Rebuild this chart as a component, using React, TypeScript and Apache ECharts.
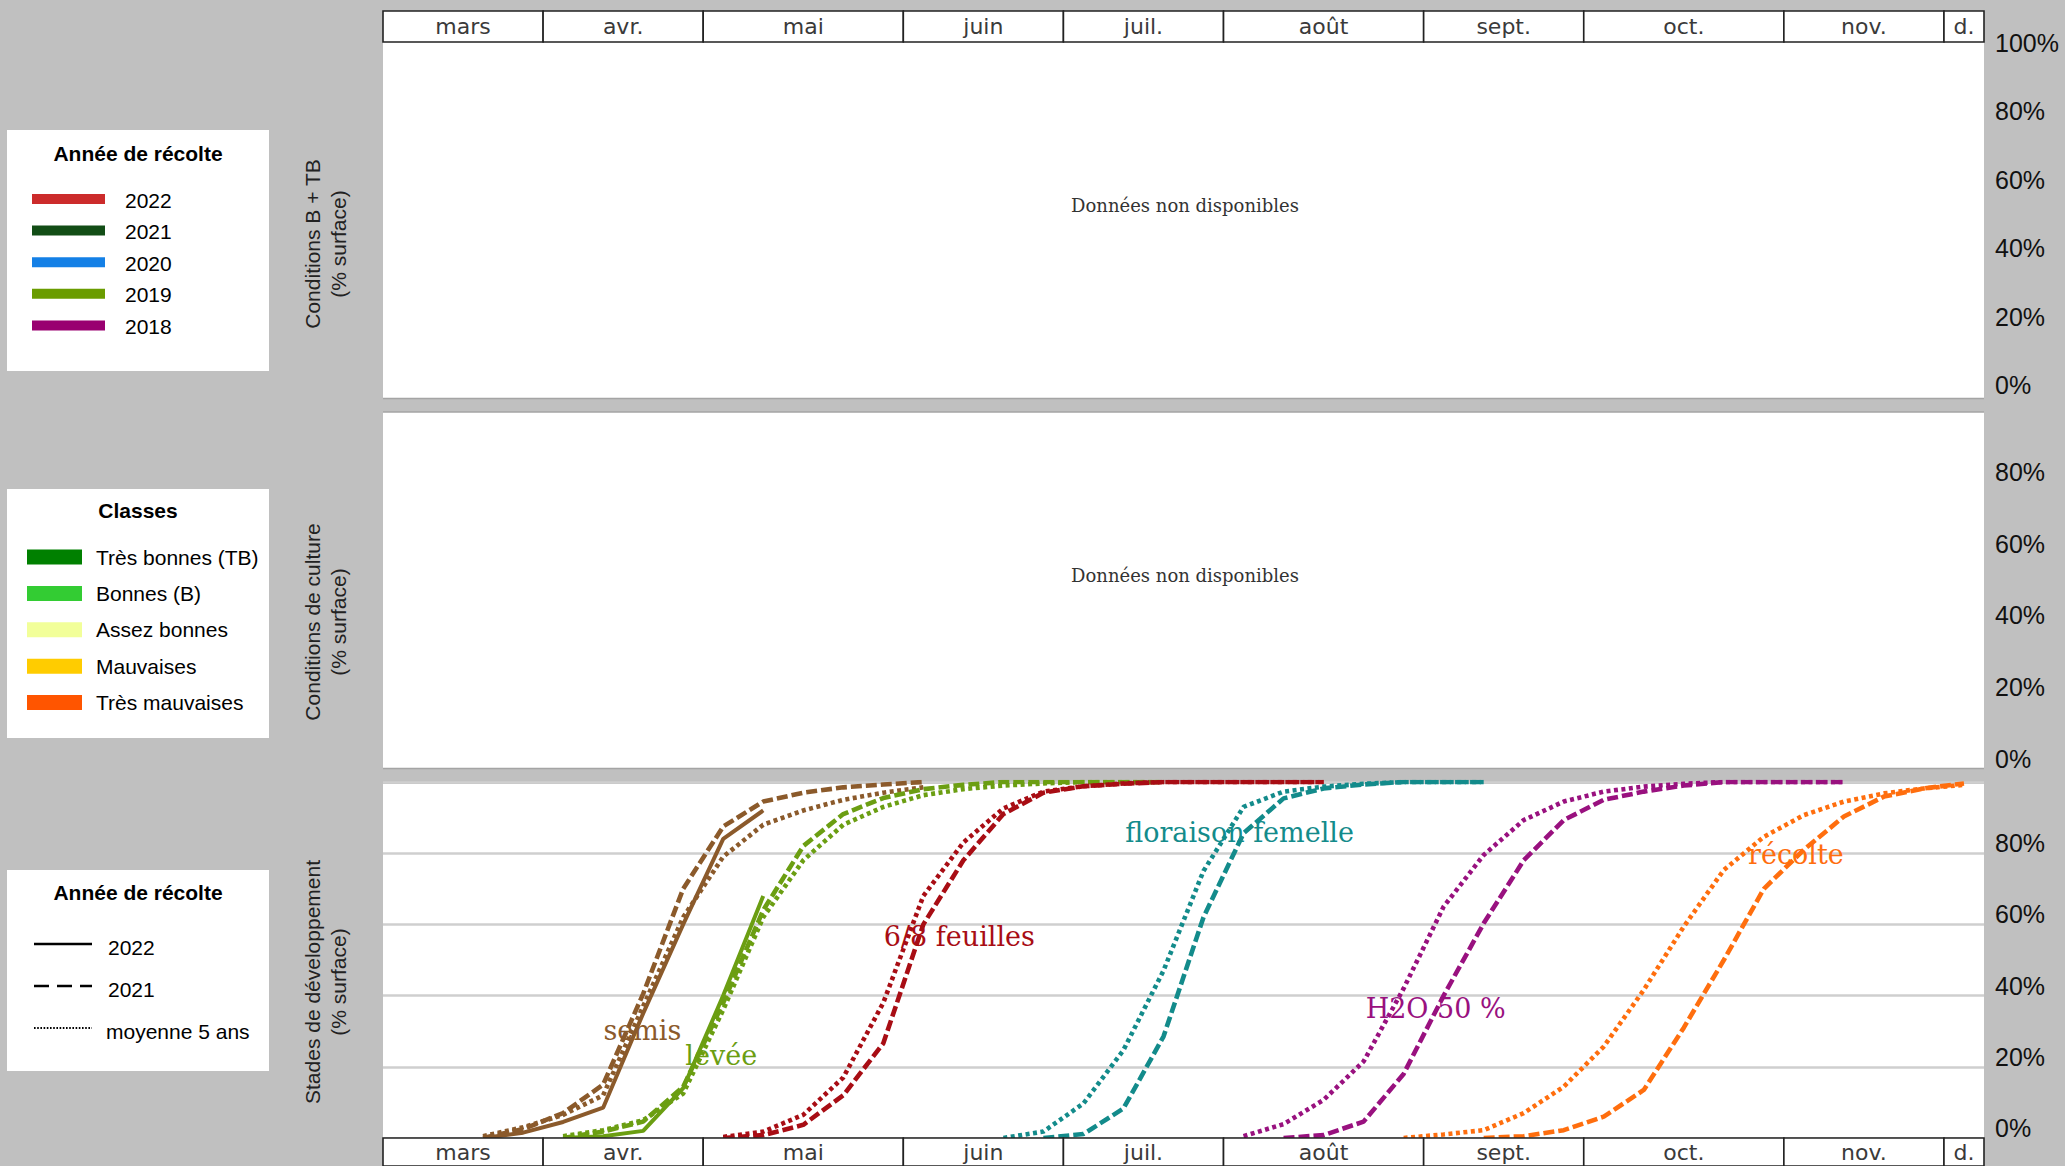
import React, { useEffect, useRef } from 'react';
import * as echarts from 'echarts';

// ---- axis categories (weeks grouped by month) ----
const monthLabels = ['mars', 'avr.', 'mai', 'juin', 'juil.', 'août', 'sept.', 'oct.', 'nov.', 'd.'];
const monthWeeks = [4, 4, 5, 4, 4, 5, 4, 5, 4, 1];
const pctTicks = [0, 20, 40, 60, 80, 100];

// ---- legends ----
const yearLegend = ['2022', '2021', '2020', '2019', '2018'];
const yearColors = ['#CC2B2B', '#124D16', '#1480E6', '#6A9C00', '#990070'];
const classLegend = ['Très bonnes (TB)', 'Bonnes (B)', 'Assez bonnes', 'Mauvaises', 'Très mauvaises'];
const classColors = ['#008000', '#33CC33', '#F2FF99', '#FFCC00', '#FF5500'];
const styleLegend = ['2022', '2021', 'moyenne 5 ans'];

// ---- stages (week index of first value, then % surface per week) ----
const stageNames = ['semis', 'levée', '6/8 feuilles', 'floraison femelle', 'H2O 50 %', 'récolte'];
const stageColors = ['#8B5A2B', '#6B9E12', '#A80D14', '#138B8B', '#99117F', '#FF6E0E'];
const stageLabelX = [6.48, 8.45, 14.4, 21.4, 26.3, 35.3];
const stageLabelY = [30.3, 23.3, 56.5, 85.7, 36.5, 79.5];

const semis2022Start = 2;
const semis2022 = [0, 1.5, 4.5, 8.5, 35, 60, 84, 92];
const semis2021Start = 2;
const semis2021 = [0, 2.5, 7, 15, 40.5, 70, 87.5, 94.5, 97, 98.5, 99.3, 100];
const semisMoyStart = 2;
const semisMoy = [0.5, 3, 6.5, 12, 37, 62, 79, 88, 92, 95, 97, 98.5];

const levee2022Start = 4;
const levee2022 = [0, 0.5, 2, 14, 40, 68];
const levee2021Start = 4;
const levee2021 = [0, 1.8, 4.6, 14.4, 38, 64, 82, 91, 95.5, 98, 99.2, 100, 100, 100, 100, 100];
const leveeMoyStart = 4;
const leveeMoy = [0.5, 2.2, 5, 12.5, 36, 62, 78, 88, 93, 96.3, 98, 99, 99.6, 100, 100, 100];

const feuilles2021Start = 8;
const feuilles2021 = [0, 0.8, 3.7, 12, 26.6, 60, 78, 91, 97, 98.8, 99.5, 100, 100, 100, 100, 100];
const feuillesMoyStart = 8;
const feuillesMoy = [0.3, 1.8, 6.5, 17, 38, 68, 83, 92.6, 97.3, 98.8, 99.6, 100, 100, 100, 100, 100];

const floraison2021Start = 16;
const floraison2021 = [0, 1.1, 8.3, 28.5, 62, 85.6, 95.4, 98.2, 99.3, 100, 100, 100];
const floraisonMoyStart = 15;
const floraisonMoy = [0, 1.8, 9.7, 24.7, 47, 75, 93, 97.3, 98.7, 99.5, 100, 100, 100];

const h2o2021Start = 22;
const h2o2021 = [0, 0.8, 4.6, 18, 40, 60.3, 78, 89.3, 95, 97.3, 99, 100, 100, 100, 100];
const h2oMoyStart = 21;
const h2oMoy = [0.5, 3.9, 10.7, 21.5, 42, 65, 79.5, 89.3, 94.5, 97.3, 98.7, 99.5, 100, 100, 100, 100];

const recolte2021Start = 27;
const recolte2021 = [0, 0.5, 2.2, 6, 13.5, 31, 50, 70, 81, 90.3, 95.9, 98.2, 99.6];
const recolteMoyStart = 25;
const recolteMoy = [0, 1, 2.2, 7, 14.4, 25.7, 41.6, 59.4, 75.3, 84.6, 90.7, 94.5, 96.8, 98.2, 99.2];

const SANS = '"Liberation Sans", Arial, sans-serif';
const SERIF = '"DejaVu Serif", serif';

const totalWeeks = monthWeeks.reduce((a, b) => a + b, 0);
const monthStart: number[] = [];
monthWeeks.reduce((acc, w) => {
  monthStart.push(acc);
  return acc + w;
}, 0);
const monthData = monthWeeks.map((w, i) => [monthStart[i], monthStart[i] + w]);

const DASH_2021 = [11, 4];
const DOT_MOY = [4, 3.5];

function lineSeries(name: string, start: number, values: number[], color: string, kind: 'solid' | 'dash' | 'dot') {
  return {
    type: 'line',
    name,
    xAxisIndex: 3,
    yAxisIndex: 3,
    data: values.map((v, k) => [start + k + 0.5, v]),
    symbol: 'none',
    lineStyle: {
      color,
      width: kind === 'solid' ? 4 : 4.6,
      type: kind === 'solid' ? 'solid' : kind === 'dash' ? DASH_2021 : DOT_MOY,
      cap: 'butt',
      opacity: 1,
    },
    z: 3,
  };
}

function headerSeries(gridIdx: number) {
  return {
    type: 'custom',
    xAxisIndex: gridIdx,
    yAxisIndex: gridIdx,
    data: monthData,
    clip: false,
    z: 5,
    renderItem: (params: any, api: any) => {
      const s = api.value(0);
      const e = api.value(1);
      const p0 = api.coord([s, 1]);
      const p1 = api.coord([e, 0]);
      return {
        type: 'group',
        children: [
          {
            type: 'rect',
            shape: { x: p0[0], y: p0[1], width: p1[0] - p0[0], height: p1[1] - p0[1] },
            style: { fill: '#fff', stroke: '#222', lineWidth: 1.6 },
          },
          {
            type: 'text',
            style: {
              text: monthLabels[params.dataIndex],
              x: (p0[0] + p1[0]) / 2,
              y: (p0[1] + p1[1]) / 2,
              align: 'center',
              verticalAlign: 'middle',
              fontSize: 22,
              fontFamily: '"DejaVu Sans", sans-serif',
              fill: '#3a3a3a',
            },
          },
        ],
      };
    },
  };
}

function buildOption() {
  const gridLeft = 383;
  const gridW = 1601;
  const grids = [
    { left: gridLeft, top: 11, width: gridW, height: 31 },
    { left: gridLeft, top: 53, width: gridW, height: 342 },
    { left: gridLeft, top: 410, width: gridW, height: 359 },
    { left: gridLeft, top: 782, width: gridW, height: 356 },
    { left: gridLeft, top: 1138, width: gridW, height: 31 },
  ];
  const xAxes = grids.map((_, i) => ({
    type: 'value',
    gridIndex: i,
    min: 0,
    max: totalWeeks,
    show: false,
  }));
  const pctAxis = (i: number, hideTop: boolean, split: boolean) => ({
    type: 'value',
    gridIndex: i,
    min: 0,
    max: 100,
    interval: 20,
    position: 'right',
    axisLine: { show: false },
    axisTick: { show: false },
    splitLine: { show: split, lineStyle: { color: '#CFCFCF', width: 2.5 } },
    axisLabel: {
      show: true,
      margin: 11,
      align: 'left',
      verticalAlign: 'bottom',
      lineHeight: 20,
      fontSize: 25,
      fontFamily: SANS,
      color: '#111',
      formatter: (v: number) => (hideTop && v === pctTicks[pctTicks.length - 1] ? '' : v + '%'),
    },
  });
  const yAxes = [
    { type: 'value', gridIndex: 0, min: 0, max: 1, show: false },
    pctAxis(1, false, false),
    pctAxis(2, true, false),
    pctAxis(3, true, true),
    { type: 'value', gridIndex: 4, min: 0, max: 1, show: false },
  ];

  const series: any[] = [
    headerSeries(0),
    headerSeries(4),
    lineSeries('semis moyenne', semisMoyStart, semisMoy, stageColors[0], 'dot'),
    lineSeries('semis 2021', semis2021Start, semis2021, stageColors[0], 'dash'),
    lineSeries('semis 2022', semis2022Start, semis2022, stageColors[0], 'solid'),
    lineSeries('levée moyenne', leveeMoyStart, leveeMoy, stageColors[1], 'dot'),
    lineSeries('levée 2021', levee2021Start, levee2021, stageColors[1], 'dash'),
    lineSeries('levée 2022', levee2022Start, levee2022, stageColors[1], 'solid'),
    lineSeries('6/8 feuilles moyenne', feuillesMoyStart, feuillesMoy, stageColors[2], 'dot'),
    lineSeries('6/8 feuilles 2021', feuilles2021Start, feuilles2021, stageColors[2], 'dash'),
    lineSeries('floraison moyenne', floraisonMoyStart, floraisonMoy, stageColors[3], 'dot'),
    lineSeries('floraison 2021', floraison2021Start, floraison2021, stageColors[3], 'dash'),
    lineSeries('H2O moyenne', h2oMoyStart, h2oMoy, stageColors[4], 'dot'),
    lineSeries('H2O 2021', h2o2021Start, h2o2021, stageColors[4], 'dash'),
    lineSeries('récolte moyenne', recolteMoyStart, recolteMoy, stageColors[5], 'dot'),
    lineSeries('récolte 2021', recolte2021Start, recolte2021, stageColors[5], 'dash'),
    {
      type: 'scatter',
      name: 'stades',
      xAxisIndex: 3,
      yAxisIndex: 3,
      symbolSize: 0,
      z: 6,
      itemStyle: { opacity: 1 },
      emphasis: { disabled: true },
      data: stageNames.map((n, i) => ({
        name: n,
        value: [stageLabelX[i], stageLabelY[i]],
        label: { color: stageColors[i] },
      })),
      label: {
        show: true,
        position: 'inside',
        formatter: '{b}',
        fontSize: 27,
        fontFamily: SERIF,
        opacity: 1,
      },
    },
  ];

  const g: any[] = [];
  // panel backgrounds
  const panels = [
    [42, 356],
    [412, 356],
    [783, 355],
  ];
  panels.forEach(([y, h]) => {
    g.push({ type: 'rect', z: -10, silent: true, shape: { x: gridLeft, y, width: gridW, height: h }, style: { fill: '#fff' } });
  });
  [398.5, 412, 768.5, 783].forEach((y) => {
    g.push({ type: 'line', z: -9, silent: true, shape: { x1: gridLeft, y1: y, x2: gridLeft + gridW, y2: y }, style: { stroke: '#A4A4A4', lineWidth: 1.5 } });
  });

  // no-data texts
  [205, 575].forEach((y) => {
    g.push({
      type: 'text',
      x: 1185,
      y,
      style: { text: 'Données non disponibles', align: 'center', verticalAlign: 'middle', fontSize: 18, fontFamily: SERIF, fill: '#333' },
    });
  });

  // y-axis titles
  const titles: [string, number][] = [
    ['Conditions B + TB\n(% surface)', 244],
    ['Conditions de culture\n(% surface)', 622],
    ['Stades de développement\n(% surface)', 982],
  ];
  titles.forEach(([t, y]) => {
    g.push({
      type: 'text',
      x: 325,
      y,
      rotation: Math.PI / 2,
      style: { text: t, align: 'center', verticalAlign: 'middle', lineHeight: 26, fontSize: 21, fontFamily: SANS, fill: '#222' },
    });
  });

  // legend boxes
  const legendTitle = (text: string, y: number) => ({
    type: 'text',
    x: 138,
    y,
    style: { text, align: 'center', verticalAlign: 'middle', fontSize: 21, fontWeight: 'bold', fontFamily: SANS, fill: '#000' },
  });
  const legendText = (text: string, x: number, y: number) => ({
    type: 'text',
    x,
    y,
    style: { text, align: 'left', verticalAlign: 'middle', fontSize: 21, fontFamily: SANS, fill: '#000' },
  });

  g.push({ type: 'rect', shape: { x: 7, y: 130, width: 262, height: 241 }, style: { fill: '#fff' } });
  g.push(legendTitle('Année de récolte', 153));
  yearLegend.forEach((t, i) => {
    const y = 199 + i * 31.6;
    g.push({ type: 'rect', shape: { x: 32, y: y - 5, width: 73, height: 10 }, style: { fill: yearColors[i] } });
    g.push(legendText(t, 125, y + 1));
  });

  g.push({ type: 'rect', shape: { x: 7, y: 489, width: 262, height: 249 }, style: { fill: '#fff' } });
  g.push(legendTitle('Classes', 510));
  classLegend.forEach((t, i) => {
    const y = 557 + i * 36.4;
    g.push({ type: 'rect', shape: { x: 27, y: y - 7.5, width: 55, height: 15 }, style: { fill: classColors[i] } });
    g.push(legendText(t, 96, y));
  });

  g.push({ type: 'rect', shape: { x: 7, y: 870, width: 262, height: 201 }, style: { fill: '#fff' } });
  g.push(legendTitle('Année de récolte', 892));
  const styleDash = [null, [15, 8], [1.6, 1.6]];
  const styleWidth = [2.6, 2.6, 2];
  styleLegend.forEach((t, i) => {
    const y = 944 + i * 42;
    g.push({
      type: 'line',
      shape: { x1: 34, y1: y, x2: 92, y2: y },
      style: { stroke: '#000', lineWidth: styleWidth[i], lineDash: styleDash[i] || undefined },
    });
    g.push(legendText(t, i === 2 ? 106 : 108, y + 3));
  });

  return {
    animation: false,
    backgroundColor: '#C0C0C0',
    grid: grids,
    xAxis: xAxes,
    yAxis: yAxes,
    series,
    graphic: { elements: g },
  };
}

export default function App() {
  const ref = useRef<HTMLDivElement>(null);
  useEffect(() => {
    if (!ref.current) return;
    const chart = echarts.init(ref.current, null, { renderer: 'svg' });
    chart.setOption(buildOption() as any);
    return () => chart.dispose();
  }, []);
  return <div ref={ref} style={{ position: 'absolute', left: 0, top: 0, width: 2065, height: 1166 }} />;
}
